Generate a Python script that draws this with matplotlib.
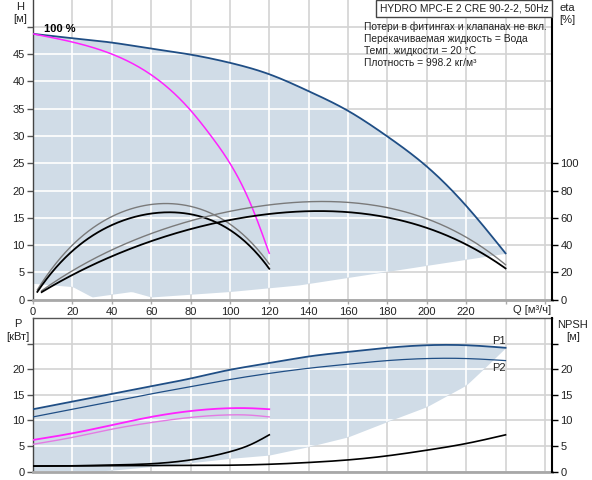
import matplotlib
matplotlib.use("Agg")
import matplotlib.pyplot as plt
from matplotlib.patches import PathPatch
import numpy as np

plt.rcParams['font.family'] = ['Liberation Sans', 'DejaVu Sans']
plt.rcParams['font.size'] = 7.5

# ---------------- data ----------------
# Head curve (full speed)
q_h = [0, 20, 40, 60, 80, 100, 120, 140, 160, 180, 200, 220, 240]
h_h = [48.7, 47.9, 47.1, 46.0, 44.9, 43.4, 41.3, 38.2, 34.6, 29.9, 24.4, 17.2, 8.5]
# Head curve of one pump (magenta)
q_m = [0, 20, 40, 60, 80, 90, 100, 110, 120]
h_m = [48.7, 47.2, 45.0, 41.2, 34.7, 30.2, 25.0, 18.0, 8.5]
# Lower boundary of the head operating area
q_hlow = [0, 10, 20, 30, 50, 60, 100, 135, 240]
h_hlow = [3.0, 2.7, 2.4, 0.5, 1.5, 0.5, 1.5, 2.7, 8.5]

# Efficiency curves (eta, %)
q_ea = [2.2, 20, 40, 50, 60, 72, 80, 90, 100, 110, 120]
eta_a_black = [5.5, 36.5, 54, 59.6, 63, 64.5, 63.3, 58.3, 51, 39, 23]
eta_a_gray = [6.5, 42.5, 58.4, 65.7, 70, 71.8, 69.4, 63.5, 54.7, 42, 27]
q_eb = [4.4, 20, 40, 55, 80, 100, 125, 140, 160, 180, 200, 220, 240]
eta_b_black = [5.9, 17.5, 31.5, 41.3, 51, 58.9, 63.7, 64.5, 64, 60, 53.5, 40, 23]
eta_b_gray = [6.5, 21, 36.4, 47.4, 56, 64.5, 70.6, 72, 72, 67, 59.6, 45, 26]

# Power curves (kW)
q_p = [0, 20, 40, 60, 80, 100, 120, 140, 160, 180, 200, 220, 240]
p1 = [12.2, 13.7, 15.2, 16.7, 18.2, 19.9, 21.2, 22.5, 23.4, 24.2, 24.7, 24.7, 24.2]
p2 = [10.7, 12.2, 13.7, 15.2, 16.6, 18.0, 19.2, 20.2, 21.0, 21.7, 22.1, 22.1, 21.7]
q_pm = [0, 20, 40, 60, 80, 100, 110, 120]
p1_m = [6.2, 7.5, 9.1, 10.7, 11.85, 12.4, 12.4, 12.2]
p2_m = [5.35, 6.7, 8.3, 9.6, 10.6, 11.1, 11.05, 10.7]
# Lower boundary of power operating area
q_plow = [0, 25, 40, 60, 80, 100, 120, 140, 160, 180, 200, 220, 230, 240]
p_plow = [0, 0, 0.3, 1.0, 1.75, 2.6, 3.25, 4.9, 6.8, 9.8, 12.7, 16.9, 20.5, 24.2]

# NPSH curves (m)
q_n1 = [0, 20, 40, 60, 80, 100, 110, 120]
npsh1 = [1.1, 1.15, 1.3, 1.55, 2.3, 3.9, 5.2, 7.2]
q_n2 = [0, 60, 120, 140, 160, 180, 200, 220, 240]
npsh2 = [1.1, 1.2, 1.45, 1.8, 2.3, 3.1, 4.2, 5.5, 7.2]

q_ticks = [0, 20, 40, 60, 80, 100, 120, 140, 160, 180, 200, 220, 240, 260]
q_labels = ['0', '20', '40', '60', '80', '100', '120', '140', '160', '180', '200', '220', '', '']
h_ticks = [0, 5, 10, 15, 20, 25, 30, 35, 40, 45, 50]
eta_ticks = [0, 20, 40, 60, 80, 100]
p_ticks = [0, 5, 10, 15, 20, 25]

title = "HYDRO MPC-E 2 CRE 90-2-2, 50Hz"
info = ["Потери в фитингах и клапанах не вкл.",
        "Перекачиваемая жидкость = Вода",
        "Темп. жидкости = 20 °C",
        "Плотность = 998.2 кг/м³"]

# ---------------- helpers ----------------
def smooth(x, y, n=200):
    """Natural cubic spline through the given points (for drawing only)."""
    x = np.asarray(x, float)
    y = np.asarray(y, float)
    k = len(x)
    h = np.diff(x)
    A = np.zeros((k, k))
    b = np.zeros(k)
    A[0, 0] = A[-1, -1] = 1
    for i in range(1, k - 1):
        A[i, i - 1] = h[i - 1]
        A[i, i] = 2 * (h[i - 1] + h[i])
        A[i, i + 1] = h[i]
        b[i] = 3 * ((y[i + 1] - y[i]) / h[i] - (y[i] - y[i - 1]) / h[i - 1])
    c = np.linalg.solve(A, b)
    xs = np.linspace(x[0], x[-1], n)
    idx = np.clip(np.searchsorted(x, xs) - 1, 0, k - 2)
    dx = xs - x[idx]
    bb = (y[idx + 1] - y[idx]) / h[idx] - h[idx] * (2 * c[idx] + c[idx + 1]) / 3
    dd = (c[idx + 1] - c[idx]) / (3 * h[idx])
    ys = y[idx] + bb * dx + c[idx] * dx ** 2 + dd * dx ** 3
    return xs, ys


def fitcurve(x, y, deg=4, n=200):
    """Least-squares polynomial through the read points (for drawing only)."""
    coef = np.polyfit(x, y, deg)
    xs = np.linspace(x[0], x[-1], n)
    return xs, np.polyval(coef, xs)


FILL = '#d0dce7'
GRID = '#d3d3d3'
BLUE = '#1f4e85'
MAG = '#ff22ff'
MAG2 = '#e37be3'
TXT = '#222222'
XMAX = 263.6
FS = 8.0
FS_BOX = 7.4

fig = plt.figure(figsize=(5.92, 4.80), dpi=100)
W, Hf = 592.0, 480.0
L, R = 33 / W, 552 / W
ax = fig.add_axes([L, 1 - 299.7 / Hf, R - L, 299.7 / Hf])
axb = fig.add_axes([L, 1 - 471.7 / Hf, R - L, (471.7 - 318.3) / Hf])


def style_axes(a, ymax, yt, ylab):
    a.set_xlim(0, XMAX)
    a.set_ylim(0, ymax)
    a.set_xticks(q_ticks)
    a.set_yticks(yt)
    a.set_yticklabels(ylab)
    for v in q_ticks:
        a.axvline(v, color=GRID, lw=1.2, zorder=0)
    for v in yt:
        a.axhline(v, color=GRID, lw=1.2, zorder=0)
    a.tick_params(axis='y', direction='out', length=4, width=1, color='#555555',
                  labelcolor=TXT, labelsize=FS, pad=2)
    a.tick_params(axis='x', direction='out', length=3, width=1, color='#aaaaaa',
                  labelcolor=TXT, labelsize=FS, pad=2)
    a.spines['left'].set_color('#444444')
    a.spines['left'].set_linewidth(1.0)
    a.spines['right'].set_visible(False)
    a.spines['bottom'].set_color('#a8a8a8')
    a.spines['bottom'].set_linewidth(2.0)


def white_grid(a, patch, yt):
    for v in q_ticks:
        ln = a.axvline(v, color='white', lw=1.2, zorder=1.5)
        ln.set_clip_path(patch)
    for v in yt:
        ln = a.axhline(v, color='white', lw=1.2, zorder=1.5)
        ln.set_clip_path(patch)


# ---------------- top axes ----------------
style_axes(ax, 54.9, h_ticks, [str(v) if v < 50 else '' for v in h_ticks])
ax.set_xticklabels(q_labels)
ax.spines['top'].set_visible(False)

qh_s, hh_s = smooth(q_h, h_h)
low_h = np.interp(qh_s, q_hlow, h_hlow)
poly_top = ax.fill_between(qh_s, low_h, hh_s, color=FILL, lw=0, zorder=1)
pp_top = PathPatch(poly_top.get_paths()[0], transform=ax.transData, visible=False)
ax.add_patch(pp_top)
white_grid(ax, pp_top, h_ticks)

ax.plot(qh_s, hh_s, color=BLUE, lw=1.3, zorder=3)
ax.plot(*smooth(q_m, h_m), color=MAG, lw=1.1, zorder=3)
ax.text(5.5, 49.0, "100 %", fontsize=FS, fontweight='bold', color='black', zorder=5)

axr = ax.twinx()
axr.set_position(ax.get_position())
axr.set_ylim(0, 54.9 * 4)
axr.set_xlim(0, XMAX)
axr.set_yticks(eta_ticks)
axr.tick_params(axis='y', direction='out', length=4, width=1, color='black',
                labelcolor=TXT, labelsize=FS, pad=2)
for s in ['top', 'left', 'bottom']:
    axr.spines[s].set_visible(False)
axr.spines['right'].set_color('black')
axr.spines['right'].set_linewidth(1.5)
axr.plot(*fitcurve(q_ea, eta_a_gray, 4), color='#7a7a7a', lw=1.0, zorder=3)
axr.plot(*fitcurve(q_ea, eta_a_black, 4), color='black', lw=1.3, zorder=3)
axr.plot(*fitcurve(q_eb, eta_b_gray, 4), color='#7a7a7a', lw=1.0, zorder=3)
axr.plot(*fitcurve(q_eb, eta_b_black, 4), color='black', lw=1.3, zorder=3)

# Texts top
fig.text(20.5 / W, 1 - 6.5 / Hf, "H", ha='center', va='center', fontsize=FS, color=TXT)
fig.text(20.5 / W, 1 - 19 / Hf, "[м]", ha='center', va='center', fontsize=FS, color=TXT)
fig.text(559 / W, 1 - 8 / Hf, "eta", ha='left', va='center', fontsize=FS, color=TXT)
fig.text(559 / W, 1 - 20 / Hf, "[%]", ha='left', va='center', fontsize=FS, color=TXT)
fig.text(513 / W, 1 - 310 / Hf, "Q [м³/ч]", ha='left', va='center', fontsize=FS, color=TXT)
fig.text(464 / W, 1 - 8.5 / Hf, title, ha='center', va='center', fontsize=FS_BOX, color=TXT,
         bbox=dict(boxstyle='square,pad=0.35', fc='white', ec='#444444', lw=1))
for i, line in enumerate(info):
    fig.text(364 / W, 1 - (26.7 + 12.2 * i) / Hf, line, ha='left', va='center',
             fontsize=FS_BOX, color=TXT)

# ---------------- bottom axes ----------------
style_axes(axb, 29.96, p_ticks, [str(v) if v < 25 else '' for v in p_ticks])
axb.set_xticklabels([])
axb.tick_params(axis='x', length=0)
axb.spines['top'].set_color('#555555')
axb.spines['top'].set_linewidth(1.0)

qp_s, p1_s = smooth(q_p, p1)
low_p = np.interp(qp_s, q_plow, p_plow)
poly_b = axb.fill_between(qp_s, low_p, p1_s, color=FILL, lw=0, zorder=1)
pp_b = PathPatch(poly_b.get_paths()[0], transform=axb.transData, visible=False)
axb.add_patch(pp_b)
white_grid(axb, pp_b, p_ticks)

axb.plot(qp_s, p1_s, color=BLUE, lw=1.3, zorder=3)
axb.plot(*smooth(q_p, p2), color=BLUE, lw=0.9, zorder=3)
axb.plot(*smooth(q_pm, p1_m), color=MAG, lw=1.3, zorder=3)
axb.plot(*smooth(q_pm, p2_m), color=MAG2, lw=1.0, zorder=3)
axb.plot(*smooth(q_n1, npsh1), color='black', lw=1.2, zorder=3)
axb.plot(*smooth(q_n2, npsh2), color='black', lw=1.2, zorder=3)
axb.text(240, 24.6, "P1", ha='right', va='bottom', fontsize=FS, color=TXT, zorder=5)
axb.text(240, 21.2, "P2", ha='right', va='top', fontsize=FS, color=TXT, zorder=5)

axbr = axb.twinx()
axbr.set_position(axb.get_position())
axbr.set_ylim(0, 29.96)
axbr.set_yticks(p_ticks)
axbr.set_yticklabels([str(v) if v < 25 else '' for v in p_ticks])
axbr.tick_params(axis='y', direction='out', length=4, width=1, color='black',
                 labelcolor=TXT, labelsize=FS, pad=2)
for s in ['top', 'left', 'bottom']:
    axbr.spines[s].set_visible(False)
axbr.spines['right'].set_color('black')
axbr.spines['right'].set_linewidth(1.5)

fig.text(18 / W, 1 - 324 / Hf, "P", ha='center', va='center', fontsize=FS, color=TXT)
fig.text(18 / W, 1 - 337 / Hf, "[кВт]", ha='center', va='center', fontsize=FS, color=TXT)
fig.text(573 / W, 1 - 325 / Hf, "NPSH", ha='center', va='center', fontsize=FS, color=TXT)
fig.text(573 / W, 1 - 337 / Hf, "[м]", ha='center', va='center', fontsize=FS, color=TXT)

fig.savefig("out.png", dpi=100)
